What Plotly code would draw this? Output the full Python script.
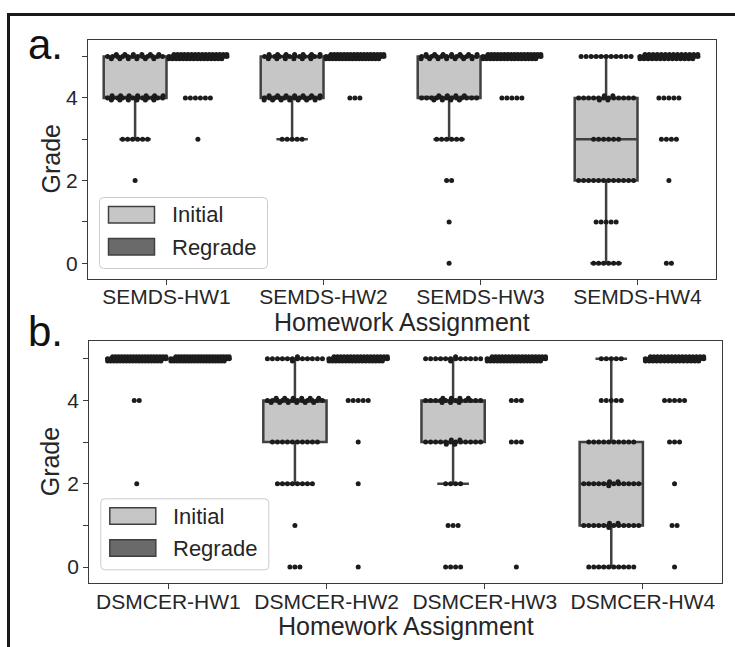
import numpy as np
import plotly.graph_objects as go

FIG_W, FIG_H = 735, 647

# ---------------- data ----------------
grades = [0, 1, 2, 3, 4, 5]

semds_assignments = ["SEMDS-HW1", "SEMDS-HW2", "SEMDS-HW3", "SEMDS-HW4"]
# number of students at each grade 0..5
semds_initial_counts = [
    [0, 0, 1, 6, 25, 24],
    [0, 0, 0, 5, 26, 25],
    [1, 1, 2, 6, 20, 26],
    [6, 5, 12, 6, 16, 11],
]
semds_regrade_counts = [
    [0, 0, 0, 1, 6, 49],
    [0, 0, 0, 0, 3, 53],
    [0, 0, 0, 0, 5, 51],
    [2, 0, 1, 4, 5, 44],
]

dsmcer_assignments = ["DSMCER-HW1", "DSMCER-HW2", "DSMCER-HW3", "DSMCER-HW4"]
dsmcer_initial_counts = [
    [0, 0, 1, 0, 2, 57],
    [3, 1, 8, 10, 24, 14],
    [4, 3, 4, 16, 19, 14],
    [10, 15, 15, 10, 5, 5],
]
dsmcer_regrade_counts = [
    [0, 0, 0, 0, 0, 60],
    [1, 0, 1, 1, 5, 52],
    [1, 0, 0, 3, 3, 53],
    [1, 2, 1, 3, 5, 48],
]

series_names = ["Initial", "Regrade"]
panel_letters = ["a.", "b."]

# ---------------- style ----------------
FONT = "Liberation Sans, Arial, sans-serif"
TEXT = "#262626"
AXIS = "#3a3a3a"
BOX_LINE = "#404040"
FILLS = {"Initial": "#c6c6c6", "Regrade": "#6a6a6a"}
DOT = "#1c1c1c"
DOT_PX = 5.0
HUE_WIDTH = 0.4
HUE_SHIFT = {"Initial": -0.2, "Regrade": 0.2}

# plot areas in pixels: (left, right, top, bottom)
PANELS_PX = [(88, 716, 40, 279), (89.3, 722, 341.3, 583.3)]
Y_RANGES = [(-0.38, 5.40), (-0.39, 5.42)]
X_RANGE = (-0.5, 3.5)
LETTER_Y_PX = [45, 331]


def px_x(v):
    return v / FIG_W


def px_y(v):
    return 1 - v / FIG_H


def expand(counts):
    return np.repeat(np.array(grades, dtype=float), counts)


def box_stats(values):
    q1, med, q3 = np.percentile(values, [25, 50, 75])
    iqr = q3 - q1
    lo = values[values >= q1 - 1.5 * iqr].min()
    hi = values[values <= q3 + 1.5 * iqr].max()
    return q1, med, q3, lo, hi


def row_offsets(n, step, half):
    if n <= 0:
        return np.array([])
    if n == 1:
        return np.array([0.0])
    step = min(step, 2 * half / (n - 1))
    return (np.arange(n) - (n - 1) / 2) * step


def swarm(values, center, dx, dy):
    """Beeswarm-style layout: a main row per value, with extra points packed
    in looser staggered layers just above and below when the row is full."""
    xs, ys = [], []
    half = HUE_WIDTH / 2 - dx / 2
    cap = int(np.floor(2 * half / dx)) + 1
    for g in sorted(set(values)):
        n = int((values == g).sum())
        if n <= cap:
            layers = [(n, 0.0)]
        else:
            rest = n - cap
            side = cap - 1
            if rest <= 2 * side:
                up = (rest + 1) // 2
                layers = [(cap, 0.0), (up, 0.42), (rest - up, -0.42)]
            else:
                mid = int(round(n * cap / (cap + 2 * side)))
                up = (n - mid + 1) // 2
                layers = [(mid, 0.0), (up, 0.42), (n - mid - up, -0.42)]
        for k, (m, lift) in enumerate(layers):
            if k == 0:
                offs = row_offsets(m, dx, half)
            else:
                shift = dx / 2 if k == 1 else -dx / 2
                offs = row_offsets(m, 1.7 * dx, half - dx / 2) + shift
            xs.extend(center + offs)
            ys.extend([g + lift * dy] * m)
    return xs, ys


fig = go.Figure()

panels = [
    (semds_assignments, semds_initial_counts, semds_regrade_counts),
    (dsmcer_assignments, dsmcer_initial_counts, dsmcer_regrade_counts),
]

shapes = []
annotations = []

for p, (names, init_counts, reg_counts) in enumerate(panels):
    xa = "x" if p == 0 else "x2"
    ya = "y" if p == 0 else "y2"
    left, right, top, bottom = PANELS_PX[p]
    px_per_x = (right - left) / (X_RANGE[1] - X_RANGE[0])
    px_per_y = (bottom - top) / (Y_RANGES[p][1] - Y_RANGES[p][0])
    dx = DOT_PX / px_per_x
    dy = DOT_PX / px_per_y

    groups = {"Initial": init_counts, "Regrade": reg_counts}
    for s in series_names:
        data = [expand(c) for c in groups[s]]
        stats = np.array([box_stats(v) for v in data])
        pos = [i + HUE_SHIFT[s] for i in range(len(names))]
        fig.add_trace(go.Box(
            x=pos, q1=stats[:, 0], median=stats[:, 1], q3=stats[:, 2],
            lowerfence=stats[:, 3], upperfence=stats[:, 4],
            width=HUE_WIDTH, whiskerwidth=0.5, boxpoints=False,
            fillcolor=FILLS[s], line=dict(color=BOX_LINE, width=2.5),
            name=s, showlegend=False, xaxis=xa, yaxis=ya, hoverinfo="skip",
        ))
    for s in series_names:
        xs_all, ys_all = [], []
        for i, c in enumerate(groups[s]):
            xs, ys = swarm(expand(c), i + HUE_SHIFT[s], dx, dy)
            xs_all += list(xs)
            ys_all += ys
        fig.add_trace(go.Scatter(
            x=xs_all, y=ys_all, mode="markers",
            marker=dict(size=DOT_PX, color=DOT, line=dict(width=0)),
            showlegend=False, xaxis=xa, yaxis=ya, hoverinfo="skip",
        ))

    # axes
    axis_common = dict(
        showline=True, mirror=True, linecolor=AXIS, linewidth=1.3,
        ticks="outside", ticklen=5, tickwidth=1.2, tickcolor=AXIS,
        showgrid=False, zeroline=False, automargin=False,
        tickfont=dict(family=FONT, size=21, color=TEXT),
    )
    xkey = "xaxis" if p == 0 else "xaxis2"
    ykey = "yaxis" if p == 0 else "yaxis2"
    fig.update_layout(**{
        xkey: dict(axis_common, domain=[px_x(left), px_x(right)],
                   range=list(X_RANGE), tickvals=list(range(len(names))),
                   ticktext=names, anchor=ya, ticklabelstandoff=-6),
        ykey: dict(axis_common, domain=[px_y(bottom), px_y(top)],
                   range=list(Y_RANGES[p]), tickvals=grades,
                   ticktext=[str(g) if g % 2 == 0 else "" for g in grades],
                   anchor=xa, ticklabelstandoff=0),
    })

    # axis titles and panel letter
    annotations.append(dict(
        text="Homework Assignment", xref="paper", yref="paper",
        x=px_x((left + right) / 2), y=px_y(bottom + 43), showarrow=False,
        xanchor="center", yanchor="middle",
        font=dict(family=FONT, size=25, color=TEXT)))
    annotations.append(dict(
        text="Grade", xref="paper", yref="paper", textangle=-90,
        x=px_x(50), y=px_y((top + bottom) / 2), showarrow=False,
        xanchor="center", yanchor="middle",
        font=dict(family=FONT, size=25, color=TEXT)))
    annotations.append(dict(
        text=panel_letters[p], xref="paper", yref="paper",
        x=px_x(26), y=px_y(LETTER_Y_PX[p]), showarrow=False,
        xanchor="left", yanchor="middle",
        font=dict(family=FONT, size=42, color="#111111")))

    # legend box
    lx0, ly0 = left + 11.5, top + 157.5
    lx1, ly1 = lx0 + 168, ly0 + 71
    r = 4
    shapes.append(dict(
        type="path", xref="paper", yref="paper", layer="above",
        path=(f"M {px_x(lx0 + r)} {px_y(ly0)} L {px_x(lx1 - r)} {px_y(ly0)} "
              f"Q {px_x(lx1)} {px_y(ly0)} {px_x(lx1)} {px_y(ly0 + r)} "
              f"L {px_x(lx1)} {px_y(ly1 - r)} "
              f"Q {px_x(lx1)} {px_y(ly1)} {px_x(lx1 - r)} {px_y(ly1)} "
              f"L {px_x(lx0 + r)} {px_y(ly1)} "
              f"Q {px_x(lx0)} {px_y(ly1)} {px_x(lx0)} {px_y(ly1 - r)} "
              f"L {px_x(lx0)} {px_y(ly0 + r)} "
              f"Q {px_x(lx0)} {px_y(ly0)} {px_x(lx0 + r)} {px_y(ly0)} Z"),
        line=dict(color="#cccccc", width=1), fillcolor="rgba(255,255,255,0.85)"))
    for k, s in enumerate(series_names):
        sy0 = ly0 + 9 + k * 32
        shapes.append(dict(
            type="rect", xref="paper", yref="paper", layer="above",
            x0=px_x(lx0 + 9), x1=px_x(lx0 + 55), y0=px_y(sy0), y1=px_y(sy0 + 16.5),
            line=dict(color=BOX_LINE, width=1.5), fillcolor=FILLS[s]))
        annotations.append(dict(
            text=s, xref="paper", yref="paper", x=px_x(lx0 + 70),
            y=px_y(sy0 + 8.5), showarrow=False, xanchor="left", yanchor="middle",
            font=dict(family=FONT, size=22, color=TEXT)))

# outer frame around the figure content
shapes.append(dict(
    type="path", xref="paper", yref="paper", layer="above",
    path=f"M {px_x(8.5)} {px_y(FIG_H + 5)} L {px_x(8.5)} {px_y(14.5)} L {px_x(FIG_W + 5)} {px_y(14.5)}",
    line=dict(color="#1a1a1a", width=3)))

fig.update_layout(
    width=FIG_W, height=FIG_H,
    margin=dict(l=0, r=0, t=0, b=0),
    paper_bgcolor="white", plot_bgcolor="white",
    boxmode="overlay", showlegend=False,
    shapes=shapes, annotations=annotations,
    font=dict(family=FONT, color=TEXT),
)

fig.write_html("out.html")
